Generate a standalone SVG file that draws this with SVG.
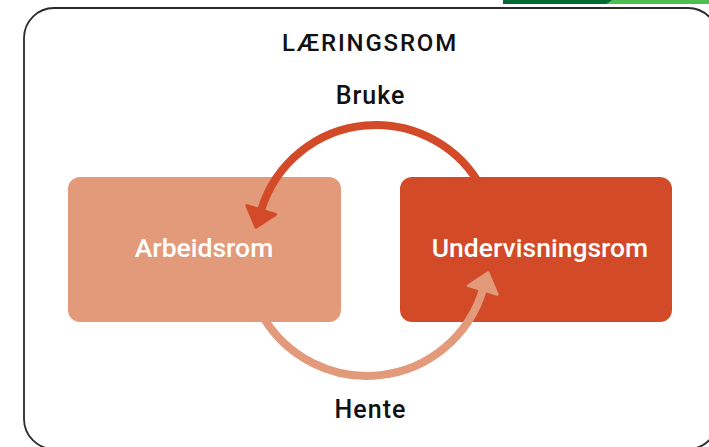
<svg xmlns="http://www.w3.org/2000/svg" width="709" height="447" viewBox="0 0 709 447">
  <style>
    .t { font-family: Roboto, "Open Sans", "Noto Sans", sans-serif; text-anchor: middle; font-weight: 500; }
    .dark { fill: #111111; }
    .white { fill: #ffffff; }
  </style>
  <defs>
    <marker id="headDark" markerUnits="userSpaceOnUse" markerWidth="26" markerHeight="36" viewBox="0 0 26 36" refX="2" refY="18" orient="auto">
      <path d="M2,3 L20,18 L2,33 Z" fill="#D24A27" stroke="#D24A27" stroke-width="3" stroke-linejoin="round"/>
    </marker>
    <marker id="headLight" markerUnits="userSpaceOnUse" markerWidth="26" markerHeight="36" viewBox="0 0 26 36" refX="2" refY="18" orient="auto">
      <path d="M2,3 L20,18 L2,33 Z" fill="#E29A7A" stroke="#E29A7A" stroke-width="3" stroke-linejoin="round"/>
    </marker>
  </defs>
  <rect width="709" height="447" fill="#ffffff"/>
  <g id="topbar">
    <polygon points="503,0 613,0 607,4 503,4" fill="#006A33"/>
    <polygon points="613,0 709,0 709,4 607,4" fill="#4DBE4F"/>
  </g>
  <g id="frame">
    <rect x="24" y="8" width="694" height="441" rx="30" ry="30" fill="none" stroke="#2b2b2b" stroke-width="1.8"/>
    <text class="t dark" x="370" y="51" font-size="24" letter-spacing="1.8">LÆRINGSROM</text>
  </g>
  <g id="arbeidsrom">
    <rect x="68" y="177" width="273" height="145" rx="12" ry="12" fill="#E29A7A"/>
    <text class="t white" x="204" y="257" font-size="26.5">Arbeidsrom</text>
  </g>
  <g id="undervisningsrom">
    <rect x="400" y="177" width="272" height="145" rx="12" ry="12" fill="#D24A27"/>
    <text class="t white" x="540" y="257" font-size="26.5">Undervisningsrom</text>
  </g>
  <g id="connectors" fill="none" stroke-width="8" stroke-linecap="butt">
    <path d="M482.6,190 A120,120 0 0 0 261.2,210" stroke="#D24A27" marker-end="url(#headDark)"/>
    <path d="M262,315 A121,121 0 0 0 482.8,290" stroke="#E29A7A" marker-end="url(#headLight)"/>
    <text class="t dark" x="370.5" y="104" font-size="25" letter-spacing="1" stroke="none">Bruke</text>
    <text class="t dark" x="370.5" y="418" font-size="25" letter-spacing="1" stroke="none">Hente</text>
  </g>
</svg>
